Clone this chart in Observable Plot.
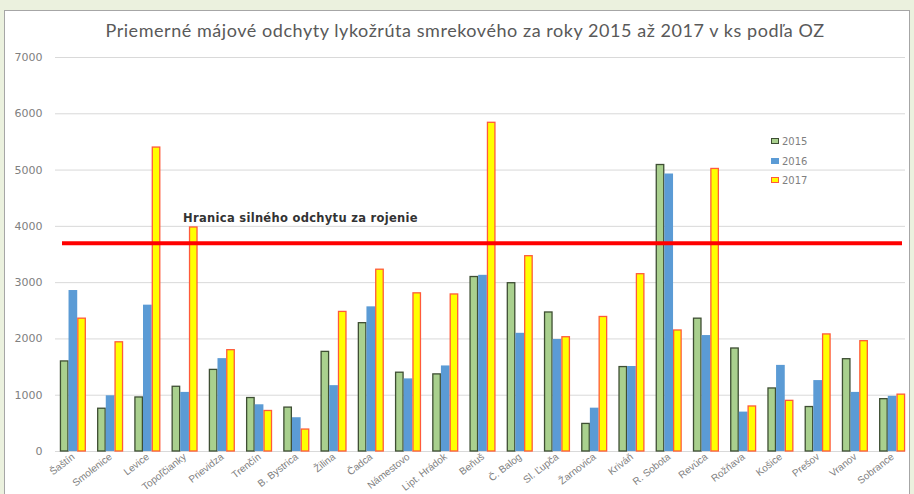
<!DOCTYPE html>
<html><head><meta charset="utf-8">
<script src="https://cdn.jsdelivr.net/npm/d3@7"></script>
<script src="https://cdn.jsdelivr.net/npm/@observablehq/plot@0.6"></script>
<style>
html,body{margin:0;padding:0;background:#EBF1DE;width:914px;height:494px;overflow:hidden;font-family:Lato,"Open Sans",sans-serif;}
#panel{position:absolute;left:4px;top:10px;width:906px;height:490px;background:#fff;border:1px solid #A6A6A6;box-sizing:border-box;}
#title{position:absolute;left:0;width:930px;top:19px;text-align:center;font-size:18px;letter-spacing:0.55px;color:#595959;font-family:Lato,sans-serif;}
#chart{position:absolute;left:0;top:0;}
.leg{position:absolute;left:771px;font-size:10px;color:#7F7F7F;font-family:"DejaVu Sans",sans-serif;}
.leg span{display:inline-block;width:8px;height:6px;margin-right:3px;box-sizing:border-box;vertical-align:1px;}
</style></head>
<body>
<div id="panel"></div>
<div id="title">Priemerné májové odchyty lykožrúta smrekového za roky 2015 až 2017 v ks podľa OZ</div>
<div id="chart"></div>
<div class="leg" style="top:136px"><span style="background:#A9D08E;border:1px solid #3E4E33"></span>2015</div>
<div class="leg" style="top:156px"><span style="background:#5B9BD5"></span>2016</div>
<div class="leg" style="top:175px"><span style="background:#FFFF00;border:1px solid #FF5A3A"></span>2017</div>
<script>
const categories = ["Šaštín","Smolenice","Levice","Topoľčianky","Prievidza","Trenčín","B. Bystrica","Žilina","Čadca","Námestovo","Lipt. Hrádok","Beňuš","Č. Balog","Sl. Ľupča","Žarnovica","Kriváň","R. Sobota","Revúca","Rožňava","Košice","Prešov","Vranov","Sobrance"];
const v2015 = [1600,760,960,1150,1450,950,780,1770,2280,1400,1370,3100,2990,2470,490,1500,5090,2360,1830,1120,790,1640,930];
const v2016 = [2860,990,2600,1050,1650,830,600,1170,2570,1290,1520,3130,2100,1990,770,1510,4930,2060,700,1530,1260,1050,980];
const v2017 = [2360,1940,5400,3980,1800,720,390,2480,3230,2810,2790,5840,3470,2030,2390,3150,2150,5020,800,900,2080,1960,1010];
const yTicks = [0,1000,2000,3000,4000,5000,6000,7000];
const threshold = 3700;
const thresholdLabel = "Hranica silného odchytu za rojenie";

const W = 914, H = 494, mL = 55, mR = 4, mT = 57, mB = 43, padIn = 0.3, padOut = 0.13;
const bw = d3.scaleBand().domain(categories).range([mL, W - mR]).paddingInner(padIn).paddingOuter(padOut).bandwidth();
const third = bw / 3;

const rows = (vals) => categories.map((c, i) => ({cat: c, v: vals[i]}));

const chart = Plot.plot({
  width: W, height: H,
  marginLeft: mL, marginRight: mR, marginTop: mT, marginBottom: mB,
  style: {background: "transparent", fontFamily: "DejaVu Sans, sans-serif"},
  x: {domain: categories, paddingInner: padIn, paddingOuter: padOut, round: false, label: null, tickSize: 0, tickPadding: 4, tickRotate: -38},
  y: {domain: [0, 7000], ticks: yTicks, tickFormat: d => String(d), label: null, tickSize: 0, tickPadding: 13},
  marks: [
    Plot.ruleY(yTicks, {stroke: "#D9D9D9", strokeWidth: 1, insetRight: 5}),
    Plot.barY(rows(v2015), {x: "cat", y: "v", fill: "#A9D08E", stroke: "#3E4E33", strokeWidth: 1.3, insetLeft: 0.6, insetRight: 2 * third + 0.6}),
    Plot.barY(rows(v2016), {x: "cat", y: "v", fill: "#5B9BD5", insetLeft: third, insetRight: third}),
    Plot.barY(rows(v2017), {x: "cat", y: "v", fill: "#FFFF00", stroke: "#FF5A3A", strokeWidth: 1.3, insetLeft: 2 * third + 0.6, insetRight: 0.6}),
    Plot.ruleY([threshold], {stroke: "#FF0000", strokeWidth: 4, insetLeft: 7, insetRight: 8}),
    Plot.text([thresholdLabel], {x: () => categories[3], y: () => 4150, text: d => d, textAnchor: "start", dx: -2, fontSize: 11.5, fontWeight: "bold", fontFamily: "DejaVu Sans, sans-serif", fill: "#333333"})
  ]
});
chart.querySelectorAll('g[aria-label="y-axis tick label"] text').forEach(t => { t.setAttribute("fill", "#808080"); t.style.fontSize = "11px"; t.style.fontFamily = "'DejaVu Sans', sans-serif"; });
chart.querySelectorAll('g[aria-label="x-axis tick label"] text').forEach(t => { t.setAttribute("fill", "#808080"); t.style.fontSize = "10px"; t.style.fontFamily = "'Liberation Sans Narrow', sans-serif"; });
chart.querySelectorAll('g[aria-label="text"]').forEach(g => { g.style.letterSpacing = "0.3px"; });
document.getElementById("chart").appendChild(chart);
</script>
</body></html>
